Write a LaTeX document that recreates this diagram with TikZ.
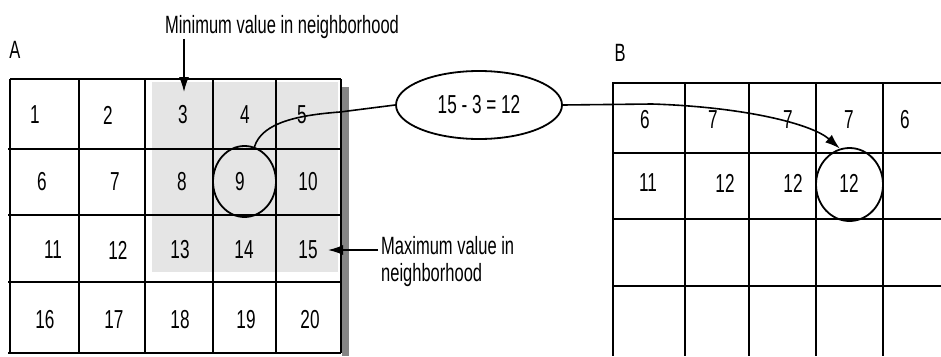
\documentclass[tikz,border=0pt]{standalone}
\usepackage{fontspec}
\setmainfont{Liberation Sans}[FakeStretch=0.66]
\usetikzlibrary{shapes.geometric,arrows.meta}
\begin{document}
\begin{tikzpicture}[x=1pt,y=-1pt,
  gridline/.style={line width=1.6pt,black},
  num/.style={font=\fontsize{26}{30}\selectfont,inner sep=0pt},
  lbl/.style={font=\fontsize{25}{27}\selectfont,inner sep=0pt},
  ring/.style={draw,ellipse,line width=1.8pt,minimum width=63pt,minimum height=71pt,inner sep=0pt},
  conn/.style={line width=1.6pt},
  arr/.style={line width=1.6pt,-{Latex[length=15pt,width=10pt]}}]
\useasboundingbox (0,0) rectangle (941,356);
% shading and shadow of A
\fill[gray!20] (152,82) rectangle (338,272);
\fill[black!48] (342,87) rectangle (349,356);
% grid A
\foreach \y in {149,215,282} \draw[gridline] (8,\y) -- (341,\y);
\draw[gridline] (10,79) -- (341,79);
\draw[gridline] (8,353) -- (341,353);
\foreach \x in {10,79,145,213,276,341} \draw[gridline] (\x,79) -- (\x,353);
% grid B
\foreach \y in {83,153,219,286} \draw[gridline] (612,\y) -- (941,\y);
\foreach \x in {613,685,749,816,883} \draw[gridline] (\x,83) -- (\x,356);
% labels
\node[lbl] (lA) at (15,50) {A};
\node[lbl] (lB) at (620,53) {B};
\node[lbl] (minlbl) at (282,27) {Minimum value in neighborhood};
\node[lbl,anchor=west,align=left] (maxlbl) at (381,262) {Maximum value in\\neighborhood};
% numbers A
\node[num] (a1) at (35,115) {1};
\node[num] (a2) at (108,115) {2};
\node[num] (a3) at (183,115) {3};
\node[num] (a4) at (245,115) {4};
\node[num] (a5) at (302,115) {5};
\node[num] (a6) at (42,182) {6};
\node[num] (a7) at (115,182) {7};
\node[num] (a8) at (182,182) {8};
\node[num] (a9) at (240,182) {9};
\node[num] (a10) at (308,182) {10};
\node[num] (a11) at (53,250) {11};
\node[num] (a12) at (118,250) {12};
\node[num] (a13) at (180,250) {13};
\node[num] (a14) at (244,250) {14};
\node[num] (a15) at (308,250) {15};
\node[num] (a16) at (45,320) {16};
\node[num] (a17) at (114,320) {17};
\node[num] (a18) at (180,320) {18};
\node[num] (a19) at (246,320) {19};
\node[num] (a20) at (310,320) {20};
% numbers B
\node[num] (b1) at (645,120) {6};
\node[num] (b2) at (713,120) {7};
\node[num] (b3) at (788,120) {7};
\node[num] (b4) at (849,120) {7};
\node[num] (b5) at (905,120) {6};
\node[num] (b6) at (648,183) {11};
\node[num] (b7) at (725,183) {12};
\node[num] (b8) at (793,183) {12};
\node[num] (b9) at (849,183) {12};
% circles and ellipse
\node[ring] (cA) at (244.5,181.5) {};
\node[ring,minimum width=67pt,minimum height=73pt] (cB) at (849.5,184.5) {};
\node[draw,ellipse,line width=1.8pt,minimum width=166pt,minimum height=68pt,inner sep=0pt,
      font=\fontsize{26}{30}\selectfont] (eq) at (479,105) {15 - 3 = 12};
% connectors
\draw[conn] (cA.74) .. controls (262,122) and (300,115) .. (340,112) -- (eq.west);
\coordinate (bend) at (652,104);
\draw[arr] (eq.east) -- (bend) .. controls (745,107) and (812,124) .. (cB.105);
\coordinate (minT) at (184,92);
\draw[arr] (minlbl.south -| minT) -- (minT);
\coordinate (maxT) at (328,250);
\draw[arr] ([xshift=-3pt]maxlbl.west |- maxT) -- (maxT);
\end{tikzpicture}
\end{document}
